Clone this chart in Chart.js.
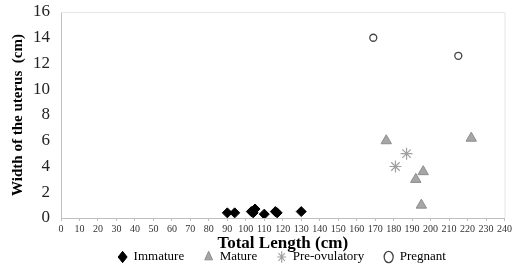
<!DOCTYPE html>
<html><head><meta charset="utf-8">
<script src="https://cdn.jsdelivr.net/npm/chart.js@4/dist/chart.umd.min.js"></script>
<style>html,body{margin:0;padding:0;background:#fff}#w{width:514px;height:268px}</style>
</head><body><div id="w"><canvas id="c"></canvas></div>
<script>
const immatureX = [90, 94, 103, 104, 105, 110, 116, 117, 130];
const immatureY = [0.4, 0.4, 0.5, 0.4, 0.7, 0.3, 0.5, 0.4, 0.5];
const matureX = [176, 192, 196, 195, 222];
const matureY = [6.0, 3.0, 3.6, 1.0, 6.2];
const preovX = [181, 187];
const preovY = [4.0, 5.0];
const pregnantX = [169, 215];
const pregnantY = [14.0, 12.6];
const seriesNames = ["Immature", "Mature", "Pre-ovulatory", "Pregnant"];

const LEG_PAD = 20;
const pts = (xs, ys) => xs.map((x, i) => ({x, y: ys[i]}));
const framePlugin = {
  id: 'frame',
  beforeDatasetsDraw(chart) {
    const a = chart.chartArea, ctx = chart.ctx;
    ctx.save();
    ctx.strokeStyle = '#e6e6e6';
    ctx.lineWidth = 1;
    ctx.beginPath();
    ctx.moveTo(a.left, a.top + 0.5); ctx.lineTo(a.right + 0.5, a.top + 0.5); ctx.lineTo(a.right + 0.5, a.bottom);
    ctx.stroke();
    ctx.restore();
  }
};
const legendPlugin = {
  id: 'legendFix',
  beforeLayout(chart) {
    const L = chart.legend;
    if (L && !L._patched) {
      const f = L.fit.bind(L);
      L.fit = function () { f(); this.height = 16; };
      L._patched = true;
    }
  },
  afterLayout(chart) {
    const L = chart.legend;
    L.top = 250.5 - LEG_PAD; L.bottom = chart.height;
    L.left += 25; L.right += 25;
  }
};
new Chart(document.getElementById('c'), {
  type: 'scatter',
  data: { datasets: [
    { label: seriesNames[0], data: pts(immatureX, immatureY), pointStyle: 'rectRot', radius: 5, backgroundColor: '#000', borderColor: '#000', borderWidth: 1 },
    { label: seriesNames[1], data: pts(matureX, matureY), pointStyle: 'triangle', radius: 6, backgroundColor: '#a6a6a6', borderColor: '#8c8c8c', borderWidth: 1 },
    { label: seriesNames[2], data: pts(preovX, preovY), pointStyle: 'star', radius: 6, backgroundColor: '#a6a6a6', borderColor: '#a0a0a0', borderWidth: 1.2 },
    { label: seriesNames[3], data: pts(pregnantX, pregnantY), pointStyle: 'circle', radius: 3.5, backgroundColor: '#fff', borderColor: '#444', borderWidth: 1.3 }
  ]},
  options: {
    responsive: true, maintainAspectRatio: false, animation: false,
    layout: { padding: { left: 9, right: 9, top: 12, bottom: 0 } },
    plugins: {
      tooltip: { enabled: false },
      legend: { position: 'bottom', labels: { usePointStyle: true, pointStyleWidth: 9, boxHeight: 8, padding: LEG_PAD, color: '#000', font: { family: 'Liberation Serif', size: 13 } } }
    },
    scales: {
      x: { type: 'linear', min: 0, max: 240,
        afterFit(scale) { scale.height = 34; },
        ticks: { stepSize: 10, color: '#333', font: { family: 'Liberation Serif', size: 10 }, maxRotation: 0, autoSkip: false, padding: 2 },
        grid: { display: true, drawOnChartArea: false, tickLength: 3, color: '#bfbfbf' },
        border: { color: '#bfbfbf' },
        title: { display: true, text: 'Total Length (cm)', color: '#000', font: { family: 'Liberation Serif', size: 17, weight: 'bold', lineHeight: 1.0 }, padding: { top: 0, bottom: 0 } } },
      y: { min: 0, max: 16,
        afterFit(scale) { scale.width = 52; scale.paddingTop = 0; scale.paddingBottom = 0; },
        ticks: { stepSize: 2, color: '#222', font: { family: 'Liberation Serif', size: 17 }, padding: 11 },
        grid: { display: false, drawTicks: false, tickLength: 0 },
        border: { color: '#bfbfbf' },
        title: { display: true, text: 'Width of the uterus  (cm)', color: '#000', font: { family: 'Liberation Serif', size: 15, weight: 'bold' }, padding: { top: 0, bottom: 6 } } }
    }
  },
  plugins: [framePlugin, legendPlugin]
});
</script></body></html>
